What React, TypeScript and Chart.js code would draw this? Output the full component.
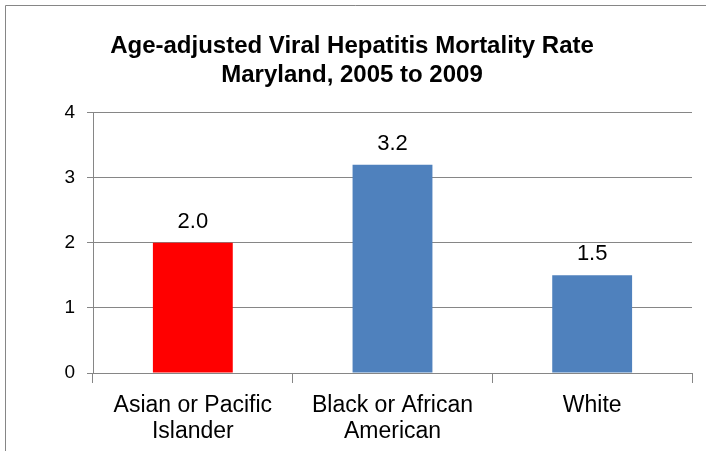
import React, { useEffect, useRef } from 'react';
import { Chart, registerables } from 'chart.js';

Chart.register(...registerables);

const categories: (string | string[])[] = [
  ['Asian or Pacific', 'Islander'],
  ['Black or African', 'American'],
  'White',
];
const rates = [2.0, 3.2, 1.5];
const barColors = ['#FF0000', '#4F81BD', '#4F81BD'];
const yMin = 0;
const yMax = 4;
const yStep = 1;
const titleLines = ['Age-adjusted Viral Hepatitis Mortality Rate', 'Maryland, 2005 to 2009'];

const FONT = '"Liberation Sans", Arial, Helvetica, sans-serif';
const GRID = '#868686';

const framePlugin = {
  id: 'frame',
  beforeDraw(chart: any) {
    const { ctx, width, height } = chart;
    ctx.save();
    ctx.fillStyle = '#ffffff';
    ctx.fillRect(0, 0, width, height);
    ctx.strokeStyle = GRID;
    ctx.lineWidth = 1;
    ctx.beginPath();
    ctx.moveTo(5.5, height);
    ctx.lineTo(5.5, 5.5);
    ctx.lineTo(width, 5.5);
    ctx.stroke();
    ctx.restore();
  },
};

const valueLabelPlugin = {
  id: 'valueLabels',
  afterDatasetsDraw(chart: any) {
    const ctx = chart.ctx;
    const meta = chart.getDatasetMeta(0);
    ctx.save();
    ctx.font = `22px ${FONT}`;
    ctx.fillStyle = '#000';
    ctx.textAlign = 'center';
    ctx.textBaseline = 'alphabetic';
    meta.data.forEach((bar: any, i: number) => {
      ctx.fillText(rates[i].toFixed(1), bar.x, bar.y - 15);
    });
    ctx.restore();
  },
};

export default function App() {
  const ref = useRef<HTMLCanvasElement>(null);

  useEffect(() => {
    if (!ref.current) return;
    const chart = new Chart(ref.current, {
      type: 'bar',
      data: {
        labels: categories,
        datasets: [
          {
            data: rates,
            backgroundColor: barColors,
            borderWidth: 0,
            categoryPercentage: 1,
            barPercentage: 0.4,
          },
        ],
      },
      options: {
        responsive: false,
        animation: false,
        devicePixelRatio: 1,
        layout: { padding: { left: 12, right: 14, top: 0, bottom: 0 } },
        plugins: {
          legend: { display: false },
          tooltip: { enabled: false },
          title: {
            display: true,
            text: titleLines,
            color: '#000',
            font: { family: FONT, size: 24, weight: 'bold', lineHeight: 1.2 },
            padding: { top: 32, bottom: 23 },
          },
        },
        scales: {
          x: {
            grid: {
              drawOnChartArea: false,
              drawTicks: true,
              tickLength: 10,
              color: GRID,
              offset: true,
            },
            border: { color: GRID },
            ticks: {
              color: '#000',
              font: { family: FONT, size: 23, lineHeight: 1.13 },
              padding: 10,
              maxRotation: 0,
              autoSkip: false,
            },
            afterFit(scale: any) {
              scale.height = 78;
            },
          },
          y: {
            min: yMin,
            max: yMax,
            grid: { color: GRID, tickLength: 6 },
            border: { color: GRID },
            ticks: {
              stepSize: yStep,
              color: '#000',
              font: { family: FONT, size: 19 },
              padding: 12,
            },
            afterFit(scale: any) {
              scale.width = 81;
            },
          },
        },
      },
      plugins: [framePlugin, valueLabelPlugin],
    });
    return () => chart.destroy();
  }, []);

  return (
    <div style={{ position: 'absolute', left: 0, top: 0, width: 706, height: 451 }}>
      <canvas ref={ref} width={706} height={451} style={{ width: 706, height: 451, display: 'block' }} />
    </div>
  );
}
